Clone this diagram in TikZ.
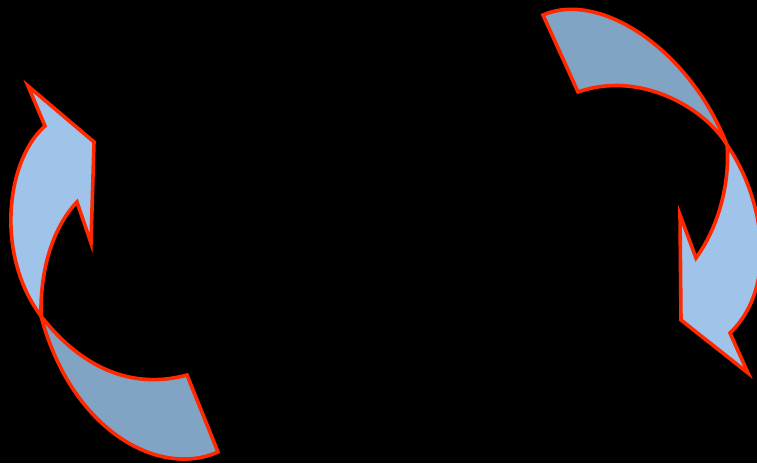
\documentclass[tikz,border=0pt]{standalone}
\usepackage{xcolor}
\usepackage{tikz}
\definecolor{bandlight}{RGB}{160,195,233}
\definecolor{banddark}{RGB}{129,163,196}
\definecolor{rimred}{RGB}{255,40,0}
\tikzset{
  bandfront/.style={draw=rimred, fill=bandlight, line width=3.6pt, line join=miter},
  bandback/.style={draw=rimred, fill=banddark, line width=3.6pt, line join=miter},
}
\begin{document}
\begin{tikzpicture}[x=1pt, y=-1pt]
    \fill[black] (0,0) rectangle (757,463);
    \useasboundingbox (0,0) rectangle (757,463);
    \clip (0,0) rectangle (757,463);
    \coordinate (lx) at (41,316);
    \coordinate (rx) at (727,145);
    % left arrow, pointing up
    \draw[bandback] (lx) .. controls (75,360) and (125,392) .. (187,375)
        -- (218,452) .. controls (160,478) and (72,432) .. cycle;
    \draw[bandfront] (lx) .. controls (-5,255) and (6,160) .. (45,126)
        -- (28,86) -- (94,142) -- (91,243) -- (77,202)
        .. controls (55,225) and (40,265) .. cycle;
    % right arrow, pointing down
    \draw[bandback] (rx) .. controls (705,108) and (640,70) .. (578,92)
        -- (543,15) .. controls (600,-10) and (690,50) .. cycle;
    \draw[bandfront] (rx) .. controls (762,195) and (780,285) .. (730,333)
        -- (748,373) -- (681,320) -- (680,215) -- (696,258)
        .. controls (720,225) and (730,180) .. cycle;
\end{tikzpicture}
\end{document}
